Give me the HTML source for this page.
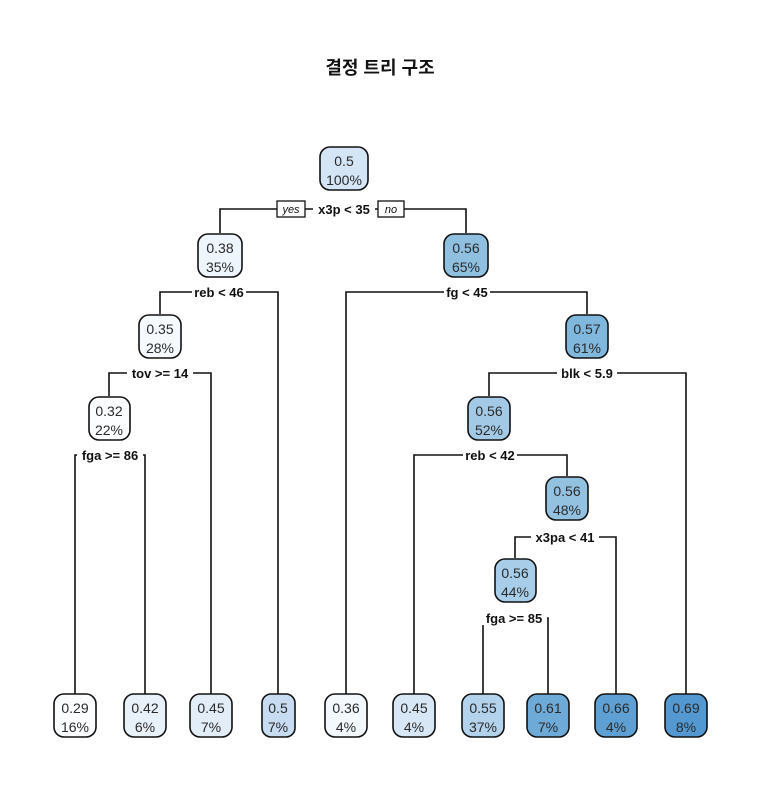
<!DOCTYPE html>
<html><head><meta charset="utf-8"><style>
html,body{margin:0;padding:0;background:#fff;}
svg{display:block;}
.n text{font-family:"Liberation Sans",sans-serif;font-size:14px;fill:#2a2a2a;text-anchor:middle;}
.s{font-family:"Liberation Sans",sans-serif;font-size:13px;font-weight:bold;fill:#111;text-anchor:middle;}
</style></head><body>
<svg width="761" height="789" viewBox="0 0 761 789" xmlns="http://www.w3.org/2000/svg">
<rect width="761" height="789" fill="#fff"/>
<text x="380" y="74" text-anchor="middle" font-family="'Liberation Sans','Noto Sans CJK KR',sans-serif" font-size="18" font-weight="bold" fill="#111">결정 트리 구조</text>
<g stroke="#111" stroke-width="1.6" fill="none">
<polyline points="220,233 220,209 466,209 466,233"/>
<polyline points="160,314 160,292 278,292 278,694"/>
<polyline points="346,694 346,292 587,292 587,314"/>
<polyline points="109,396 109,373 211,373 211,694"/>
<polyline points="489,396 489,373 686,373 686,694"/>
<polyline points="75,694 75,455 145,455 145,694"/>
<polyline points="414,694 414,455 567,455 567,476"/>
<polyline points="515,558 515,537 616,537 616,694"/>
<polyline points="483,694 483,618 548,618 548,694"/>
</g>
<g>
<rect x="313" y="202" width="62" height="14" fill="#fff"/>
<text class="s" x="344" y="214">x3p &lt; 35</text>
<rect x="277" y="201" width="28" height="16" fill="#fff" stroke="#111" stroke-width="1.3"/>
<text x="291" y="213" text-anchor="middle" font-family="'Liberation Sans',sans-serif" font-size="11" font-style="italic" fill="#111">yes</text>
<rect x="378" y="201" width="26" height="16" fill="#fff" stroke="#111" stroke-width="1.3"/>
<text x="391" y="213" text-anchor="middle" font-family="'Liberation Sans',sans-serif" font-size="11" font-style="italic" fill="#111">no</text>
<rect x="192" y="286" width="54" height="13" fill="#fff"/><text class="s" x="219" y="297">reb &lt; 46</text>
<rect x="444" y="286" width="46" height="13" fill="#fff"/><text class="s" x="467" y="297">fg &lt; 45</text>
<rect x="127" y="367" width="66" height="13" fill="#fff"/><text class="s" x="160" y="378">tov &gt;= 14</text>
<rect x="557" y="367" width="60" height="13" fill="#fff"/><text class="s" x="587" y="378">blk &lt; 5.9</text>
<rect x="77" y="449" width="66" height="13" fill="#fff"/><text class="s" x="110" y="460">fga &gt;= 86</text>
<rect x="463" y="449" width="54" height="13" fill="#fff"/><text class="s" x="490" y="460">reb &lt; 42</text>
<rect x="531" y="531" width="68" height="13" fill="#fff"/><text class="s" x="565" y="542">x3pa &lt; 41</text>
<rect x="482" y="612" width="65" height="13" fill="#fff"/><text class="s" x="514" y="623">fga &gt;= 85</text>
</g>
<g class="n" stroke-width="1.6">
<g><rect x="320" y="147" width="48" height="43" rx="10" fill="#d4e5f5" stroke="#111"/><text x="344" y="166">0.5</text><text x="344" y="185">100%</text></g>
<g><rect x="198" y="234" width="44" height="43" rx="10" fill="#eef5fc" stroke="#111"/><text x="220" y="253">0.38</text><text x="220" y="272">35%</text></g>
<g><rect x="444" y="234" width="44" height="43" rx="10" fill="#8fc0df" stroke="#111"/><text x="466" y="253">0.56</text><text x="466" y="272">65%</text></g>
<g><rect x="139" y="315" width="42" height="43" rx="10" fill="#f6fafe" stroke="#111"/><text x="160" y="334">0.35</text><text x="160" y="353">28%</text></g>
<g><rect x="566" y="315" width="42" height="43" rx="10" fill="#80b7dd" stroke="#111"/><text x="587" y="334">0.57</text><text x="587" y="353">61%</text></g>
<g><rect x="89" y="397" width="41" height="43" rx="10" fill="#fbfdff" stroke="#111"/><text x="109" y="416">0.32</text><text x="109" y="435">22%</text></g>
<g><rect x="468" y="397" width="42" height="43" rx="10" fill="#a2cae7" stroke="#111"/><text x="489" y="416">0.56</text><text x="489" y="435">52%</text></g>
<g><rect x="546" y="477" width="42" height="43" rx="10" fill="#93c2e1" stroke="#111"/><text x="567" y="496">0.56</text><text x="567" y="515">48%</text></g>
<g><rect x="495" y="559" width="41" height="43" rx="10" fill="#a7cde8" stroke="#111"/><text x="515" y="578">0.56</text><text x="515" y="597">44%</text></g>
<g><rect x="54" y="694" width="42" height="43" rx="10" fill="#fcfdff" stroke="#111"/><text x="75" y="713">0.29</text><text x="75" y="732">16%</text></g>
<g><rect x="124" y="694" width="42" height="43" rx="10" fill="#e8f1fa" stroke="#111"/><text x="145" y="713">0.42</text><text x="145" y="732">6%</text></g>
<g><rect x="190" y="694" width="42" height="43" rx="10" fill="#e2edf8" stroke="#111"/><text x="211" y="713">0.45</text><text x="211" y="732">7%</text></g>
<g><rect x="262" y="694" width="33" height="43" rx="9" fill="#c8dcf1" stroke="#111"/><text x="278" y="713">0.5</text><text x="278" y="732">7%</text></g>
<g><rect x="325" y="694" width="42" height="43" rx="10" fill="#f3f8fd" stroke="#111"/><text x="346" y="713">0.36</text><text x="346" y="732">4%</text></g>
<g><rect x="393" y="694" width="42" height="43" rx="10" fill="#d8e7f6" stroke="#111"/><text x="414" y="713">0.45</text><text x="414" y="732">4%</text></g>
<g><rect x="462" y="694" width="42" height="43" rx="10" fill="#b3d2ec" stroke="#111"/><text x="483" y="713">0.55</text><text x="483" y="732">37%</text></g>
<g><rect x="527" y="694" width="42" height="43" rx="10" fill="#6eaad7" stroke="#111"/><text x="548" y="713">0.61</text><text x="548" y="732">7%</text></g>
<g><rect x="595" y="694" width="42" height="43" rx="10" fill="#5ea0d3" stroke="#111"/><text x="616" y="713">0.66</text><text x="616" y="732">4%</text></g>
<g><rect x="665" y="694" width="42" height="43" rx="10" fill="#5398d0" stroke="#111"/><text x="686" y="713">0.69</text><text x="686" y="732">8%</text></g>
</g>
</svg>
</body></html>
